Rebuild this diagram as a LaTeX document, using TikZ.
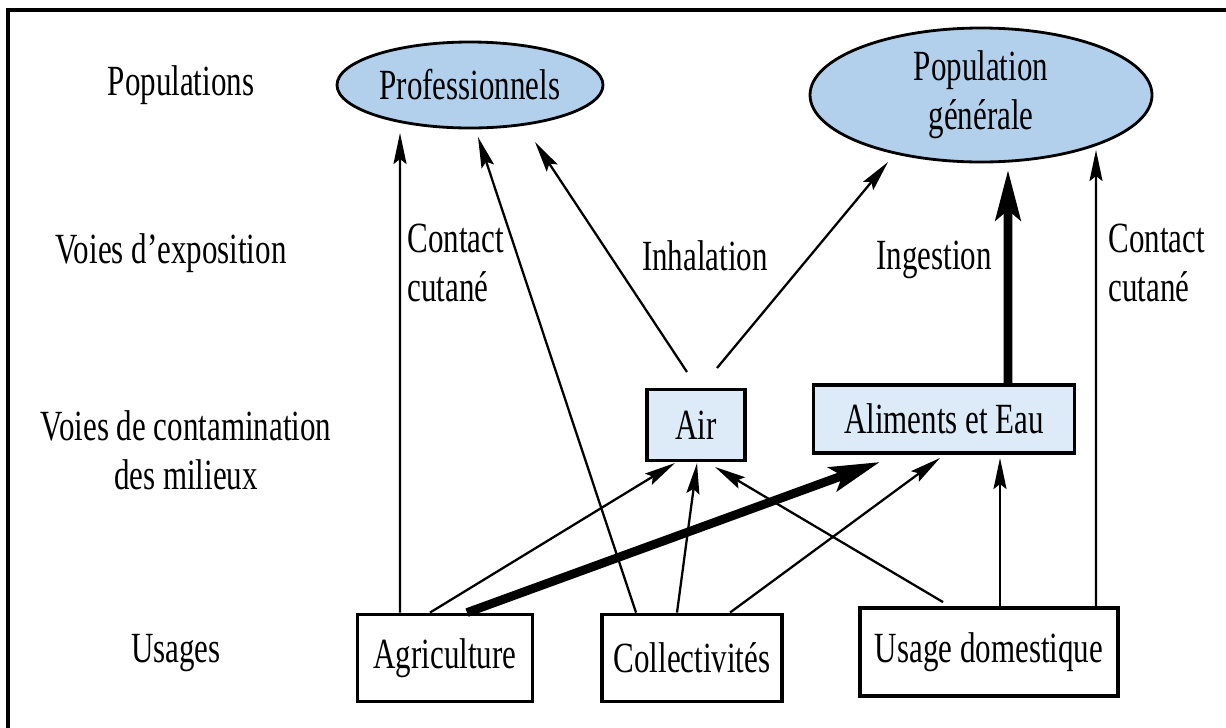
\documentclass[tikz,border=0pt]{standalone}
\usepackage{fontspec}
\setmainfont{Liberation Serif}[FakeStretch=0.72]
\usetikzlibrary{arrows.meta,shapes.geometric}
\definecolor{bleupop}{RGB}{178,208,236}
\definecolor{bleumil}{RGB}{221,235,248}

\begin{document}
\begin{tikzpicture}[
    texte/.style={font=\fontsize{24.5}{28}\selectfont, inner sep=0pt},
    popu/.style={ellipse, draw, line width=1.6pt, fill=bleupop, texte, align=center},
    milieu/.style={rectangle, draw, line width=2.2pt, fill=bleumil, texte},
    usage/.style={rectangle, draw, line width=2.2pt, fill=white, texte},
    fleche/.style={line width=1.3pt, -{Stealth[length=0.62cm,width=0.26cm,inset=0.1cm]}},
    grosse/.style={line width=5pt, -{Stealth[length=1.0cm,width=0.5cm,inset=0.2cm]}}
  ]
    \useasboundingbox (0,0) rectangle (24.52,-14.54);
    % Cadre
    \draw [line width=1.8pt] (0.16,-14.7) |- (24.7,-0.20);

    % Colonne de gauche
    \node [texte] (lpop) at (3.62,-1.70) {Populations};
    \node [texte] (lexpo) at (3.42,-5.06) {Voies d’exposition};
    \node [texte, align=center] (lmil) at (3.72,-9.00) {Voies de contamination\\des milieux};
    \node [texte] (lusa) at (3.52,-13.06) {Usages};

    % Populations
    \node [popu, minimum width=5.32cm, minimum height=1.72cm] (pro) at (9.40,-1.70) {Professionnels};
    \node [popu, minimum width=6.84cm, minimum height=2.68cm] (gen) at (19.62,-1.90) {Population\\générale};

    % Milieux
    \node [milieu, minimum width=1.96cm, minimum height=1.42cm] (air) at (13.92,-8.50) {Air};
    \node [milieu, minimum width=5.22cm, minimum height=1.36cm] (alim) at (18.88,-8.38) {Aliments et Eau};

    % Usages
    \node [usage, minimum width=3.50cm, minimum height=1.74cm] (agri) at (8.90,-13.16) {Agriculture};
    \node [usage, minimum width=3.60cm, minimum height=1.74cm] (coll) at (13.84,-13.16) {Collectivités};
    \node [usage, minimum width=5.16cm, minimum height=1.76cm] (dom) at (19.78,-13.04) {Usage domestique};

    % Expositions
    \draw [fleche] ([xshift=-0.90cm]agri.north) -- ([shift={(-1.40,-0.96)}]pro.center);
    \draw [fleche] ([xshift=-1.12cm]coll.north) -- ([shift={(0.16,-1.04)}]pro.center);
    \draw [fleche] ([shift={(-0.18,1.06)}]air.center) -- ([shift={(1.30,-1.14)}]pro.center);
    \draw [fleche] ([shift={(0.42,1.14)}]air.center) -- ([shift={(-1.86,-1.34)}]gen.center);
    \draw [grosse] ([xshift=1.28cm]alim.north) -- ([shift={(0.54,-1.50)}]gen.center);
    \draw [fleche] ([xshift=2.14cm]dom.north) -- ([shift={(2.30,-1.10)}]gen.center);

    % Contamination des milieux
    \draw [fleche] ([xshift=-0.30cm]agri.north) -- ([shift={(-0.42,-0.76)}]air.center);
    \draw [grosse] ([xshift=0.44cm]agri.north) -- ([shift={(-1.28,-0.86)}]alim.center);
    \draw [fleche] ([xshift=-0.30cm]coll.north) -- ([shift={(0.02,-0.76)}]air.center);
    \draw [fleche] ([xshift=0.76cm]coll.north) -- ([shift={(-0.08,-0.78)}]alim.center);
    \draw [fleche] ([xshift=-0.92cm,yshift=0.08cm]dom.north) -- ([shift={(0.38,-0.84)}]air.center);
    \draw [fleche] ([xshift=0.22cm]dom.north) -- ([shift={(1.12,-0.78)}]alim.center);

    % Voies d'exposition
    \node [texte, align=left, anchor=west] (cut1) at (8.14,-5.26) {Contact\\cutané};
    \node [texte] (inh) at (14.10,-5.12) {Inhalation};
    \node [texte] (ing) at (18.68,-5.20) {Ingestion};
    \node [texte, align=left, anchor=west] (cut2) at (22.16,-5.26) {Contact\\cutané};
\end{tikzpicture}
\end{document}
